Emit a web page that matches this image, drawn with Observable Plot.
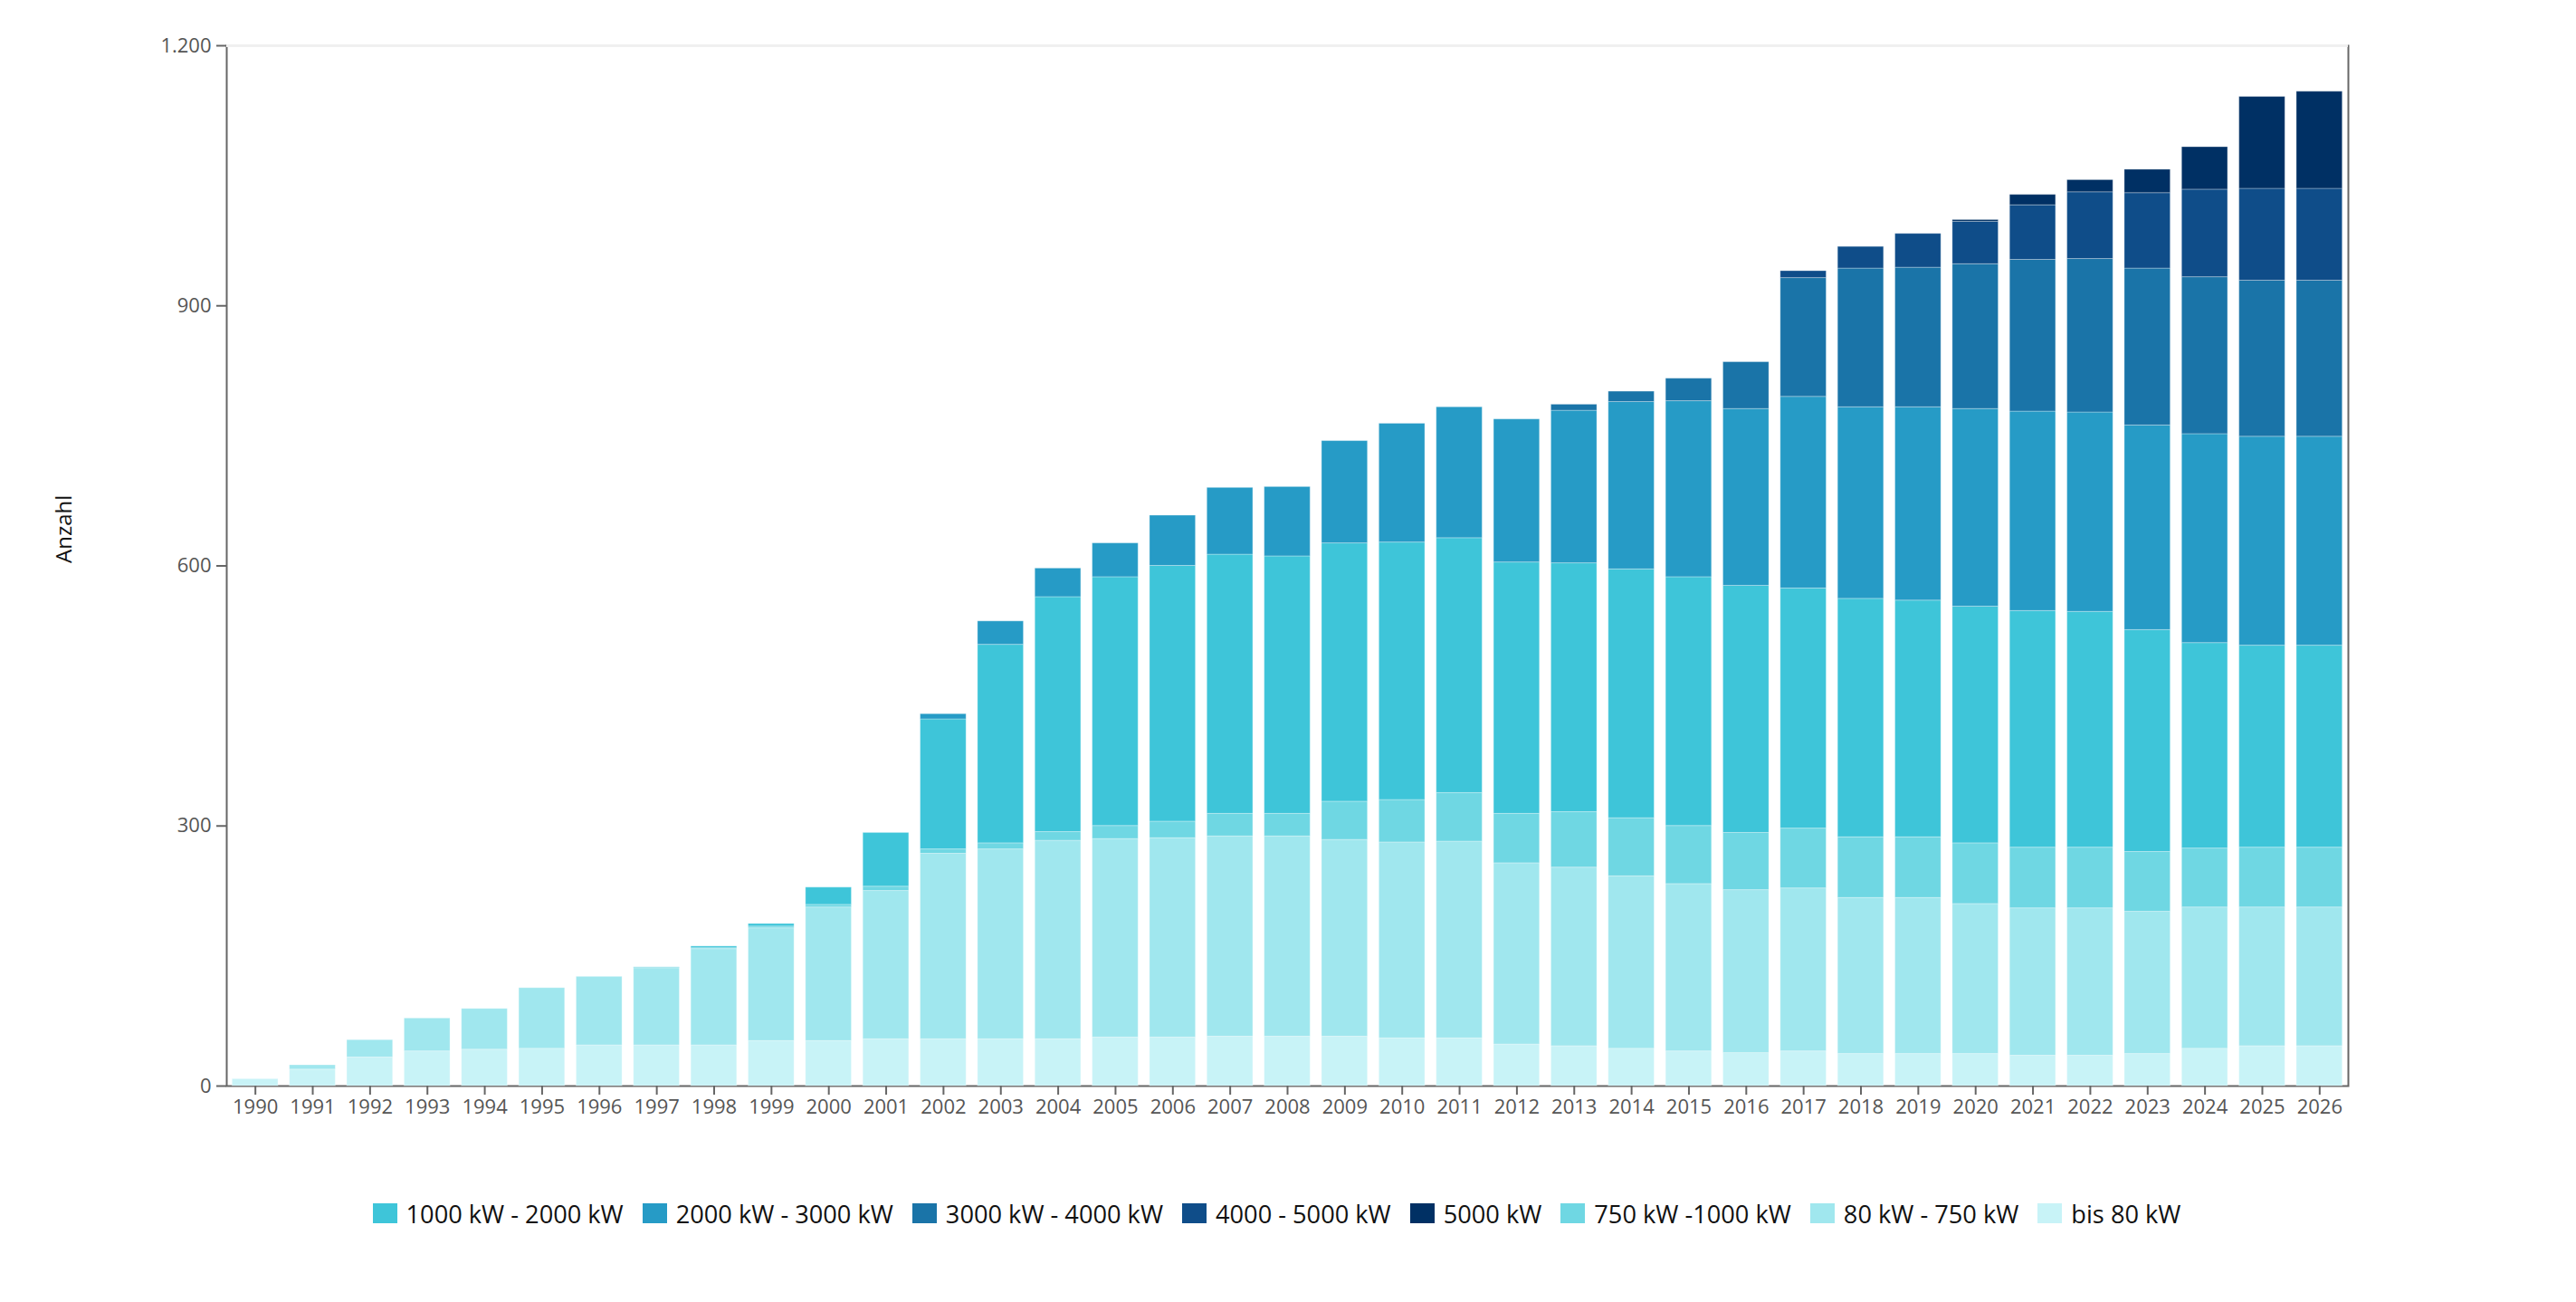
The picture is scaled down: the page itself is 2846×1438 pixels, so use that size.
<!DOCTYPE html>
<html>
<head>
<meta charset="utf-8">
<script src="https://cdn.jsdelivr.net/npm/d3@7"></script>
<script src="https://cdn.jsdelivr.net/npm/@observablehq/plot@0.6"></script>
<style>
  html, body { margin: 0; padding: 0; background: #fff; }
  #chart { width: 2846px; }
  #legend { width: 2846px; margin-top: 30px; box-sizing: border-box; padding-right: 4px; }
  .lg-swatches { justify-content: center !important; min-height: 40px !important; }
  .lg-swatch { margin-right: 21px !important; }
  .lg-swatch > svg { margin-right: 10px !important; }
</style>
</head>
<body>
<div id="chart"></div>
<div id="legend"></div>
<script>
// Categories
const years = [1990,1991,1992,1993,1994,1995,1996,1997,1998,1999,2000,2001,2002,2003,2004,2005,2006,2007,2008,2009,2010,2011,2012,2013,2014,2015,2016,2017,2018,2019,2020,2021,2022,2023,2024,2025,2026];

// Series (bottom to top of each stack)
const bis80      = [8,19,33,40,42,43,47,47,47,52,52,54,54,54,54,56,56,57,57,57,55,55,48,46,43,40,38,40,37,37,37,35,35,37,43,46,46];
const kw80_750   = [0,5,20,38,47,70,79,89,111,130,154,171,214,219,229,229,230,231,231,227,226,227,209,206,199,193,188,188,180,180,173,170,170,164,163,160,160];
const kw750_1000 = [0,0,0,0,0,0,0,1,1,2,3,5,5,7,10,15,19,26,26,44,49,56,57,64,67,67,66,69,70,70,70,70,70,69,68,69,69];
const kw1000_2000= [0,0,0,0,0,0,0,0,2,3,20,62,150,229,271,287,295,299,297,298,297,294,290,287,287,287,285,277,275,273,273,273,272,256,237,233,233];
const kw2000_3000= [0,0,0,0,0,0,0,0,0,0,0,0,6,27,33,39,58,77,80,118,137,151,165,176,193,203,204,221,221,223,228,230,230,236,241,241,241];
const kw3000_4000= [0,0,0,0,0,0,0,0,0,0,0,0,0,0,0,0,0,0,0,0,0,0,0,7,12,26,54,137,160,161,167,175,177,181,181,180,180];
const kw4000_5000= [0,0,0,0,0,0,0,0,0,0,0,0,0,0,0,0,0,0,0,0,0,0,0,0,0,0,0,8,25,39,49,63,77,87,101,106,106];
const kw5000     = [0,0,0,0,0,0,0,0,0,0,0,0,0,0,0,0,0,0,0,0,0,0,0,0,0,0,0,0,0,0,2,12,14,27,49,106,112];

// Series labels (stack order) and colours
const stackLabels = ["bis 80 kW","80 kW - 750 kW","750 kW -1000 kW","1000 kW - 2000 kW","2000 kW - 3000 kW","3000 kW - 4000 kW","4000 - 5000 kW","5000 kW"];
const stackColors = ["#c8f3f7","#a0e7ee","#6fd7e3","#3ec5d9","#269bc6","#1a74a8","#0f4d89","#003064"];
const stackValues = [bis80, kw80_750, kw750_1000, kw1000_2000, kw2000_3000, kw3000_4000, kw4000_5000, kw5000];

// Legend order
const legendLabels = ["1000 kW - 2000 kW","2000 kW - 3000 kW","3000 kW - 4000 kW","4000 - 5000 kW","5000 kW","750 kW -1000 kW","80 kW - 750 kW","bis 80 kW"];

// Axis ticks
const yTicks = [0, 300, 600, 900, 1200];
const yDomain = [0, 1200];

const de = d3.formatLocale({decimal: ",", thousands: ".", grouping: [3], currency: ["", " €"]});
const fmt = de.format(",d");

const data = [];
stackLabels.forEach((s, si) => {
  years.forEach((yr, i) => {
    const v = stackValues[si][i];
    if (v > 0) data.push({year: yr, series: s, value: v});
  });
});

const chart = Plot.plot({
  width: 2846,
  height: 1290,
  marginLeft: 250,
  marginRight: 252,
  marginTop: 50,
  marginBottom: 91,
  style: {fontFamily: "'Open Sans', sans-serif", fontSize: "22px", color: "#555", background: "#fff", overflow: "visible"},
  x: {type: "band", domain: years, paddingInner: 0.2, paddingOuter: 0.1, round: false, label: null},
  y: {domain: yDomain, label: null},
  color: {domain: stackLabels, range: stackColors},
  marks: [
    Plot.frame({stroke: "#666", strokeWidth: 2}),
    Plot.ruleY([1200], {stroke: "#f0f0f0", strokeWidth: 3}),
    Plot.barY(data, {x: "year", y: "value", fill: "series", stroke: "#fff", strokeOpacity: 0.3, strokeWidth: 1}),
    Plot.axisX({tickSize: 10, tickPadding: 5, tickFormat: d => String(d), stroke: "#666", strokeWidth: 2, fill: "#555", label: null}),
    Plot.axisY({ticks: yTicks, tickFormat: fmt, tickSize: 11, tickPadding: 6, stroke: "#666", strokeWidth: 2, fill: "#555", label: null}),
    Plot.text(["Anzahl"], {frameAnchor: "left", text: d => d, rotate: -90, dx: -179, dy: -3, fill: "#111", fontSize: 24})
  ]
});
document.getElementById("chart").appendChild(chart);

const legend = Plot.legend({
  color: {domain: legendLabels, range: legendLabels.map(l => stackColors[stackLabels.indexOf(l)])},
  legend: "swatches",
  swatchWidth: 27,
  swatchHeight: 22,
  className: "lg",
  style: {fontFamily: "'Open Sans', sans-serif", fontSize: "27.2px", color: "#111"}
});
document.getElementById("legend").appendChild(legend);
</script>
</body>
</html>
